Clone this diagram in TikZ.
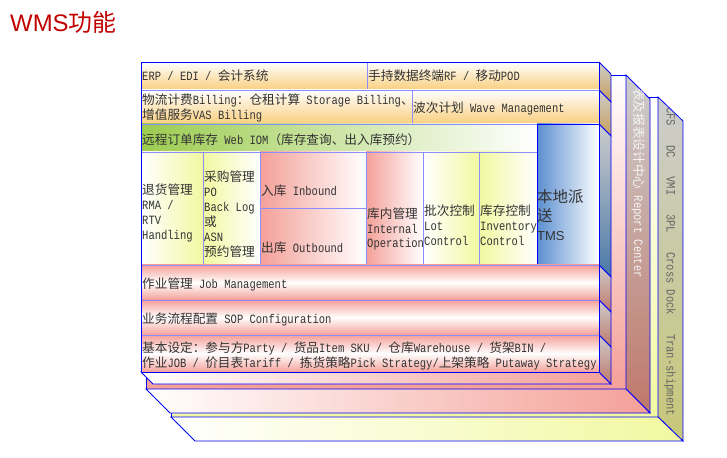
\documentclass[tikz,border=0pt]{standalone}
\usepackage{fontspec}
\usepackage{xcolor}
\usepackage{tikz}
\setmainfont{Liberation Mono}[FakeStretch=0.83]
\newfontfamily\cjkfont{Noto Sans CJK SC}
\newfontfamily\sansfont{Liberation Sans}
\newfontfamily\tmsfont[Scale=0.84]{Liberation Sans}
\let\cjkon\cjkfont

% CJK characters switch to the CJK family on their own
\XeTeXinterchartokenstate=1
\newXeTeXintercharclass\cjkcls
\newcount\cjkcnt
\cjkcnt="3000
\loop
  \XeTeXcharclass\cjkcnt=\cjkcls
  \advance\cjkcnt by 1
\ifnum\cjkcnt<"A000 \repeat
\cjkcnt="FF00
\loop
  \XeTeXcharclass\cjkcnt=\cjkcls
  \advance\cjkcnt by 1
\ifnum\cjkcnt<"FFF0 \repeat
\XeTeXinterchartoks 0 \cjkcls={\begingroup\cjkon}
\XeTeXinterchartoks 4095 \cjkcls={\begingroup\cjkon}
\XeTeXinterchartoks \cjkcls 0={\endgroup}
\XeTeXinterchartoks \cjkcls 4095={\endgroup}

\definecolor{lineB}{HTML}{0000FF}
\definecolor{lineL}{HTML}{8C8CFF}
\definecolor{titleR}{HTML}{C00000}
\definecolor{goldC}{HTML}{F9CF7E}
\definecolor{goldS}{HTML}{C8A05A}
\definecolor{limeC}{HTML}{9CCC50}
\definecolor{paleY}{HTML}{F2F8A0}
\definecolor{salmonC}{HTML}{F4A098}
\definecolor{rustC}{HTML}{C0786A}
\definecolor{steelC}{HTML}{5B8FD0}
\definecolor{steelS}{HTML}{4A78A8}
\definecolor{sideG}{HTML}{CCCCCC}
\definecolor{olivC}{HTML}{C8C878}

\begin{document}
\begin{tikzpicture}[
    x=1bp, y=-1bp,
    font=\fontsize{12.7}{15}\selectfont,
    edge/.style={draw=lineB, line width=0.8bp},
    cell/.style={draw=lineL, line width=0.8bp},
    gold/.style={cell, top color=white, bottom color=goldC},
    lime/.style={cell, left color=limeC, right color=white},
    pale/.style={cell, left color=white, right color=paleY},
    palr/.style={cell, left color=paleY, right color=white},
    rose/.style={cell, left color=salmonC, right color=white},
    band/.style={cell, top color=salmonC, bottom color=salmonC, middle color=white},
    sideface/.style={edge, top color=sideG, bottom color=#1},
    lab/.style={anchor=west, align=left, inner sep=1bp, text=black!80},
    sidelab/.style={anchor=west, rotate=-90, inner sep=0pt}
  ]
    \useasboundingbox (0,0) rectangle (727,458);
    \node[anchor=west, inner sep=0pt, text=titleR,
      font=\sansfont\fontsize{24}{28}\selectfont] (title) at (10,22) {WMS功能};

    % back layer
    \draw[edge, top color=white, bottom color=paleY] (171,97) rectangle (658,417);
    \draw[sideface=olivC] (658,97) -- (683,121) -- (683,441) -- (658,417) -- cycle;
    \draw[edge, left color=white, right color=paleY] (171,417) -- (658,417) -- (683,441) -- (195,441) -- cycle;
    \begin{scope}
      \clip (658,97) -- (683,121) -- (683,441) -- (658,417) -- cycle;
      \node[sidelab, text=black!60] (hub) at (670,107) {CFS~~~DC~~~VMI~~~3PL~~~Cross Dock~~~Tran-shipment};
    \end{scope}

    % middle layer
    \draw[edge, top color=white, bottom color=salmonC] (146,75) rectangle (626,389);
    \draw[sideface=rustC] (626,75) -- (650,99) -- (650,413) -- (626,389) -- cycle;
    \draw[edge, left color=white, right color=salmonC] (146,389) -- (626,389) -- (650,413) -- (170,413) -- cycle;
    \begin{scope}
      \clip (626,75) -- (650,99) -- (650,413) -- (626,389) -- cycle;
      \node[sidelab, text=white!92!gray] (report) at (638,88) {表及报表设计中心 Report Center};
    \end{scope}

    % front layer
    \draw[edge, left color=white, right color=salmonC] (141,372) -- (599,372) -- (611,384) -- (153,384) -- cycle;
    \foreach \ya/\yb/\tint in {62/90/goldS, 90/124/goldS, 124/265/steelS, 265/300/rustC, 300/335/rustC, 335/372/rustC} {
      \draw[sideface=\tint] (599,\ya) -- (611,\ya+12) -- (611,\yb+12) -- (599,\yb) -- cycle;
    }

    \draw[gold] (141,62) rectangle (367,90);
    \draw[gold] (367,62) rectangle (599,90);
    \draw[gold] (141,90) rectangle (412,124);
    \draw[gold] (412,90) rectangle (599,124);
    \draw[lime] (141,124) rectangle (537,152);
    \draw[pale] (141,152) rectangle (203,265);
    \draw[palr] (203,152) rectangle (260,265);
    \draw[rose] (260,152) rectangle (366,208);
    \draw[rose] (260,208) rectangle (366,265);
    \draw[rose] (366,152) rectangle (423,265);
    \draw[pale] (423,152) rectangle (479,265);
    \draw[palr] (479,152) rectangle (537,265);
    \draw[edge, left color=steelC, right color=white] (537,124) rectangle (599,265);
    \foreach \ya/\yb in {265/300, 300/335, 335/372} {
      \draw[band] (141,\ya) rectangle (599,\yb);
    }
    \draw[edge] (141,62) rectangle (599,372);

    \node[lab] (erp) at (141,76) {ERP / EDI / 会计系统};
    \node[lab] (rf) at (367,76) {手持数据终端RF / 移动POD};
    \node[lab] (billing) at (141,108) {物流计费Billing：仓租计算 Storage Billing、\\增值服务VAS Billing};
    \node[lab] (wave) at (412,108) {波次计划 Wave Management};
    \node[lab] (webiom) at (141,140) {远程订单库存 Web IOM（库存查询、出入库预约）};
    \node[lab] (rma) at (141,213) {退货管理\\RMA /\\RTV\\Handling};
    \node[lab] (po) at (203,214) {采购管理\\PO\\Back Log\\或\\ASN\\预约管理};
    \node[lab] (inbound) at (260,191) {入库 Inbound};
    \node[lab] (outbound) at (260,248) {出库 Outbound};
    \node[lab] (internal) at (366,229) {库内管理\\Internal\\Operation};
    \node[lab] (lot) at (423,225) {批次控制\\Lot\\Control};
    \node[lab] (inventory) at (479,225) {库存控制\\Inventory\\Control};
    \node[lab, font=\tmsfont\fontsize{15.5}{19}\selectfont] (tms) at (536,215) {本地派\\送\\TMS};
    \node[lab] (job) at (141,284) {作业管理 Job Management};
    \node[lab] (sop) at (141,319) {业务流程配置 SOP Configuration};
    \node[lab] (basic) at (141,356) {基本设定：参与方Party / 货品Item SKU / 仓库Warehouse / 货架BIN /\\作业JOB / 价目表Tariff / 拣货策略Pick Strategy/上架策略 Putaway Strategy};
  \end{tikzpicture}
\end{document}
